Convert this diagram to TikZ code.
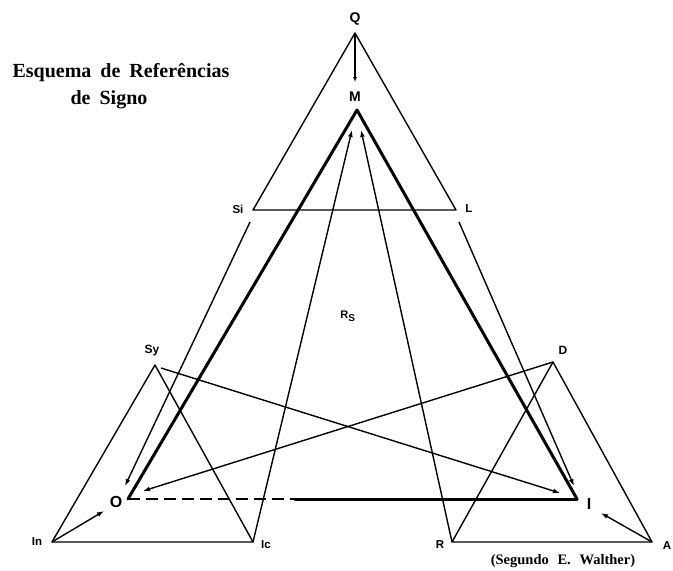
\documentclass[tikz,border=0pt]{standalone}
\usepackage{fontspec}
\setmainfont{Liberation Serif}
\newfontfamily\lblfont{Liberation Sans}
\usetikzlibrary{arrows.meta}
\begin{document}
\begin{tikzpicture}[x=1pt,y=-1pt,
  fine/.style={line width=1.4pt},
  heavy/.style={line width=3pt,line join=round,line cap=round},
  arr/.style={fine,-{Latex[open,length=7pt,width=5pt]}},
  lbl/.style={font=\lblfont\bfseries\fontsize{11.5}{11.5}\selectfont, inner sep=0pt},
  biglbl/.style={font=\lblfont\bfseries\fontsize{14}{14}\selectfont, inner sep=0pt},
  ttl/.style={font=\bfseries\fontsize{20}{20}\selectfont, inner sep=0pt}]
\useasboundingbox (0,0) rectangle (673,571);
% vertices
\coordinate (Qv) at (355,33);
\coordinate (Siv) at (253,210);
\coordinate (Lv) at (456,210);
\coordinate (Syv) at (155,365);
\coordinate (Dv) at (553,362);
\coordinate (Inv) at (52,542);
\coordinate (Icv) at (253,542);
\coordinate (Rv) at (452,542);
\coordinate (Av) at (652,542);
\coordinate (Mv) at (357,110);
\coordinate (Ov) at (128,499);
\coordinate (Iv) at (577,499);
\coordinate (Mid) at (295,499);
% arrow ends
\coordinate (Mt) at (355,82);
\coordinate (SiS) at (250,222);
\coordinate (SiT) at (125,486);
\coordinate (LS) at (459,222);
\coordinate (LT) at (574,486);
\coordinate (IcT) at (352,130);
\coordinate (RT) at (361,130);
\coordinate (SyS) at (161,368);
\coordinate (SyT) at (560,493);
\coordinate (DT) at (143,491);
\coordinate (InT) at (104,511);
\coordinate (AT) at (601,513);
% labels
\node[biglbl] (Q) at (355,19) {Q};
\node[biglbl] (M) at (355,97) {M};
\node[lbl] (Si) at (238,209) {Si};
\node[lbl] (L) at (469,209) {L};
\node[lbl,font=\lblfont\bfseries\fontsize{12}{12}\selectfont] (Sy) at (152,351) {Sy};
\node[lbl,font=\lblfont\bfseries\fontsize{12}{12}\selectfont] (D) at (563,350) {D};
\node[lbl] (In) at (37,542) {In};
\node[lbl] (Ic) at (266,545) {Ic};
\node[lbl] (R) at (440,545) {R};
\node[lbl] (A) at (667,546) {A};
\node[biglbl,font=\lblfont\bfseries\fontsize{16}{16}\selectfont] (O) at (116,502) {O};
\node[biglbl,font=\lblfont\bfseries\fontsize{16}{16}\selectfont] (I) at (589,504) {I};
\node[lbl,font=\lblfont\bfseries\fontsize{11}{11}\selectfont] (RS) at (348,316) {R$_{\mbox{\lblfont\bfseries\fontsize{10}{10}\selectfont S}}$};
\node[ttl] (T1) at (121,73) {Esquema\hspace{0.45em}de\hspace{0.45em}Refer\^encias};
\node[ttl] (T2) at (109,100) {de\hspace{0.45em}Signo};
\node[font=\bfseries\fontsize{14.5}{14.5}\selectfont, inner sep=0pt] (W) at (563,561) {(Segundo\hspace{0.6em}E.\hspace{0.6em}Walther)};
% big triangle
\draw[fine,line join=round] (Qv) -- (Siv) -- (Lv) -- cycle;
% small triangles
\draw[fine,line join=round] (Inv) -- (Syv) -- (Icv) -- cycle;
\draw[fine,line join=round] (Rv) -- (Dv) -- (Av) -- cycle;
% heavy triangle
\draw[heavy] (Ov) -- (Mv) -- (Iv);
\draw[line width=2pt,dash pattern=on 12pt off 6pt] (Ov) -- (Mid);
\draw[heavy] (Mid) -- (Iv);
% arrows
\draw[fine,-{Latex[length=5pt,width=4pt]}] (Qv) -- (Mt);
\draw[arr] (Icv) -- (IcT);
\draw[arr] (Rv) -- (RT);
\draw[arr] (SiS) -- (SiT);
\draw[arr] (LS) -- (LT);
\draw[arr] (SyS) -- (SyT);
\draw[arr] (Dv) -- (DT);
\draw[arr] (Inv) -- (InT);
\draw[arr] (Av) -- (AT);
\end{tikzpicture}
\end{document}
